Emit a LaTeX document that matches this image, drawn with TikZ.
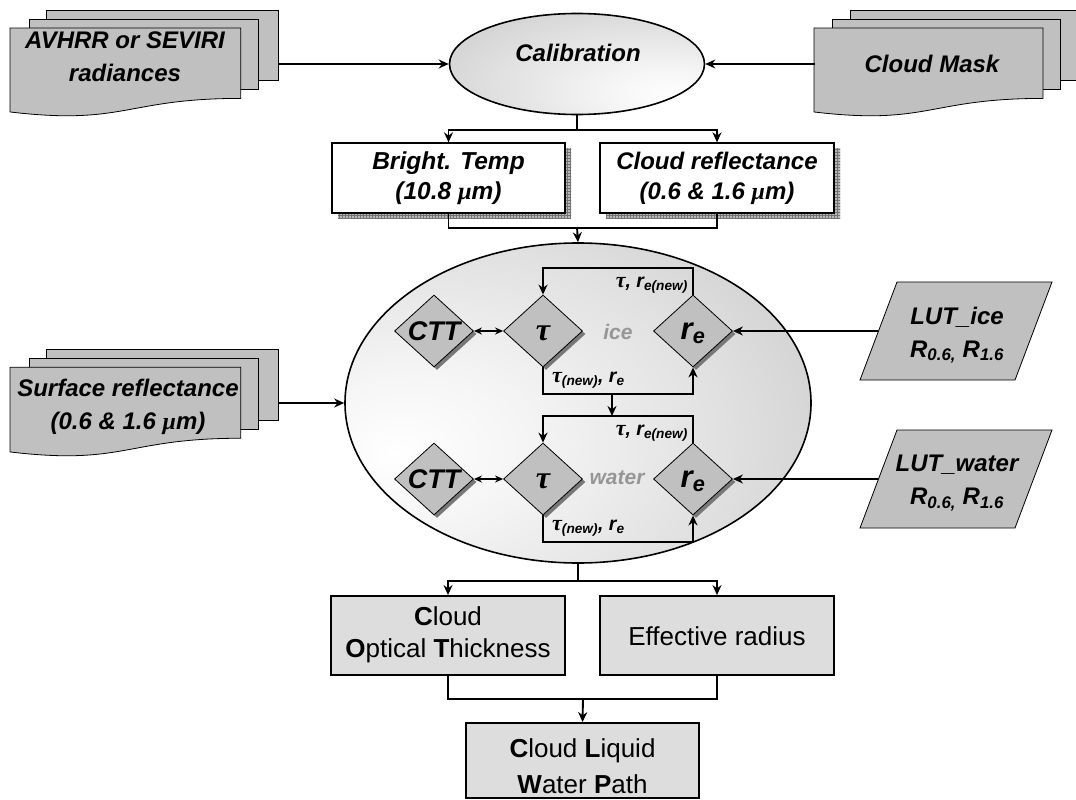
\documentclass[tikz,border=0pt]{standalone}
\usepackage{fontspec}
\setmainfont{Liberation Sans}
\newfontfamily\grk{Liberation Serif}
\usetikzlibrary{shapes.geometric,arrows.meta,patterns,shadows,calc}

\definecolor{docgray}{RGB}{192,192,192}
\definecolor{boxgray}{RGB}{221,221,221}
\definecolor{shadowgray}{RGB}{120,120,120}
\definecolor{labelgray}{RGB}{150,150,150}

\pgfdeclareradialshading{bigshade}{\pgfpoint{-20bp}{-8bp}}{color(0bp)=(white); color(12bp)=(white!96!black); color(30bp)=(white!88!black); color(45bp)=(white!80!black); color(100bp)=(white!80!black)}
\pgfdeclareradialshading{calshade}{\pgfpoint{20bp}{-16bp}}{color(0bp)=(white); color(12bp)=(white!96!black); color(30bp)=(white!88!black); color(48bp)=(white!80!black); color(100bp)=(white!80!black)}

\newcommand\mydocstack[4]{%
 \filldraw[page] ({#1+0.1376*#3},{#2}) rectangle ({#1+#3},{#2+0.666*#4});
 \filldraw[page] ({#1+0.0709*#3},{#2+0.084*#4}) rectangle ({#1+0.926*#3},{#2+0.752*#4});
 \filldraw[page] ({#1},{#2+0.17*#4}) -- ({#1+0.861*#3},{#2+0.17*#4}) -- ({#1+0.861*#3},{#2+0.834*#4}) .. controls ({#1+0.4305*#3},{#2+0.834*#4}) and ({#1+0.4305*#3},{#2+1.09*#4}) .. ({#1},{#2+0.962*#4}) -- cycle;
}
\newcommand\bigtau{{\grk\bfseries\itshape\fontsize{32}{32}\selectfont τ}}
\newcommand\smtau{{\grk\bfseries\itshape\fontsize{22}{22}\selectfont τ}}
\newcommand\mum{{\grk\bfseries\itshape μ}}

\begin{document}
\begin{tikzpicture}[x=1pt,y=-1pt,
  page/.style={draw=black, line width=0.8pt, fill=docgray},
  bitext/.style={font=\fontsize{24}{33}\selectfont\bfseries\itshape, align=center, inner sep=0pt},
  conn/.style={line width=1.9pt},
  arr/.style={line width=1.9pt, -{Stealth[length=10pt,width=9pt]}},
  dbl/.style={line width=1.9pt, {Stealth[length=8pt,width=7pt]}-{Stealth[length=8pt,width=7pt]}},
  dia/.style={diamond, draw, line width=0.8pt, fill=docgray, minimum width=79pt, minimum height=72pt, inner sep=0pt,
     drop shadow={shadow xshift=3pt, shadow yshift=-3pt, fill=shadowgray, opacity=1}},
  diatext/.style={font=\fontsize{27}{27}\selectfont\bfseries\itshape},
  tempbox/.style={rectangle, draw, line width=1.3pt, fill=white, minimum width=233pt, minimum height=70pt, inner sep=0pt},
  resbox/.style={rectangle, draw, line width=1.8pt, fill=boxgray, minimum width=234pt, inner sep=0pt},
  lbl/.style={font=\fontsize{19.5}{19.5}\selectfont\bfseries\itshape, inner sep=0pt},
  phase/.style={font=\fontsize{21}{21}\selectfont\bfseries\itshape, text=labelgray, inner sep=0pt},
  restext/.style={font=\fontsize{26}{32}\selectfont, align=center, inner sep=0pt}
]
\useasboundingbox (0,0) rectangle (1076,800);
\fill[white] (0,0) rectangle (1076,800);

% ---------- input document stacks ----------
\mydocstack{10}{10}{268}{106}
\node[bitext] (avhrr) at (125,57) {AVHRR or SEVIRI\\radiances};
\mydocstack{814}{10}{266}{106}
\node[bitext] (cmask) at (932,64) {Cloud Mask};
\mydocstack{10}{349}{268}{107}
\node[bitext] (surf) at (128,407) {Surface reflectance\\(0.6 \& 1.6 \mum m)};

% ---------- calibration ----------
\node[ellipse, draw, line width=1.6pt, shade, shading=calshade, minimum width=255pt, minimum height=101pt, inner sep=0pt] (cal) at (577,64) {};
\node[bitext] (caltext) at (578,53) {Calibration};

\coordinate (avout) at (278,64);
\coordinate (cmout) at (815,64);
\draw[arr] (avout) -- (cal.west);
\draw[arr] (cmout) -- (cal.east);

% ---------- BT / reflectance ----------
\fill[gray!55] (338,148) rectangle (571,218);
\fill[pattern=grid, pattern color=black!55] (338,148) rectangle (571,218);
\fill[gray!55] (606,148) rectangle (840,218);
\fill[pattern=grid, pattern color=black!55] (606,148) rectangle (840,218);
\node[tempbox] (bt) at (448.5,178) {};
\node[bitext, font=\fontsize{24.5}{30}\selectfont\bfseries\itshape] (bttext) at (448.5,178) {Bright. Temp\\(10.8 \mum m)};
\node[tempbox, minimum width=234pt] (cr) at (717,178) {};
\node[bitext, font=\fontsize{24}{30}\selectfont\bfseries\itshape] (crtext) at (717,178) {Cloud reflectance\\(0.6 \& 1.6 \mum m)};

\draw[conn] (cal.south) -- ++(0,15) coordinate (split1);
\draw[arr] (split1) -| (bt.north);
\draw[arr] (split1) -| (cr.north);

% ---------- big process ellipse ----------
\node[ellipse, draw, line width=1.6pt, shade, shading=bigshade, minimum width=466pt, minimum height=320pt, inner sep=0pt] (proc) at (578,403) {};

\draw[conn] (bt.south) -- ++(0,14) -| (cr.south);
\coordinate (join1) at (577,227);
\draw[arr] (join1) -- (proc.north);

\coordinate (surfout) at (278,403);
\draw[arr] (surfout) -- (proc.west);

% ice
\node[dia] (cttI) at (434,331) {};
\node[diatext] at (cttI) {CTT};
\node[dia] (tauI) at (543,331) {};
\node at (543,333) {\bigtau};
\node[dia] (reI) at (693,331) {};
\node[font=\fontsize{31}{31}\selectfont\bfseries\itshape] at (693,333) {r\textsubscript{e}};
\node[phase] (iceL) at (618,332) {ice};

\draw[dbl] (cttI.east) -- (tauI.west);
\draw[arr] (reI.north) -- ++(0,-27) -| (tauI.north);
\draw[arr] (tauI.south) -- ++(0,27) -| (reI.south);
\node[lbl, anchor=east] (l1) at (688,285) {\smtau, r\textsubscript{e(new)}};
\node[lbl, anchor=west] (l2) at (552,380) {\smtau\textsubscript{(new)}, r\textsubscript{e}};

\coordinate (iceout) at (612,394);
\coordinate (watin) at (612,416);
\draw[arr] (iceout) -- (watin);

% water
\node[dia] (cttW) at (434,479) {};
\node[diatext] at (cttW) {CTT};
\node[dia] (tauW) at (543,479) {};
\node at (543,481) {\bigtau};
\node[dia] (reW) at (693,479) {};
\node[font=\fontsize{31}{31}\selectfont\bfseries\itshape] at (693,481) {r\textsubscript{e}};
\node[phase] (watL) at (617,478) {water};

\draw[dbl] (cttW.east) -- (tauW.west);
\draw[arr] (reW.north) -- ++(0,-27) -| (tauW.north);
\draw[arr] (tauW.south) -- ++(0,27) -| (reW.south);
\node[lbl, anchor=east] (l3) at (688,433) {\smtau, r\textsubscript{e(new)}};
\node[lbl, anchor=west] (l4) at (552,528) {\smtau\textsubscript{(new)}, r\textsubscript{e}};

% ---------- LUTs ----------
\filldraw[page] (897,282) -- (1052,282) -- (1015,380) -- (860,380) -- cycle;
\node[bitext] (lutI) at (957,335) {LUT\_ice\\R\textsubscript{0.6,} R\textsubscript{1.6}};
\filldraw[page] (897,430) -- (1052,430) -- (1015,528) -- (860,528) -- cycle;
\node[bitext] (lutW) at (957,483) {LUT\_water\\R\textsubscript{0.6,} R\textsubscript{1.6}};
\coordinate (lutIin) at (878,331);
\coordinate (lutWin) at (878,479);
\draw[arr] (lutIin) -- (reI.east);
\draw[arr] (lutWin) -- (reW.east);

% ---------- results ----------
\node[resbox, minimum height=79pt] (cot) at (448,635.5) {};
\node[restext] (cottext) at (448,635) {\textbf{C}loud\\\textbf{O}ptical \textbf{T}hickness};
\node[resbox, minimum height=79pt] (er) at (717,635.5) {};
\node[restext] (ertext) at (717,636) {Effective radius};
\node[resbox, minimum width=233pt, minimum height=75pt] (clwp) at (582.5,760.5) {};
\node[restext, font=\fontsize{26}{36}\selectfont] (clwptext) at (582.5,766) {\textbf{C}loud \textbf{L}iquid\\\textbf{W}ater \textbf{P}ath};

\draw[conn] (proc.south) -- ++(0,17) coordinate (split2);
\draw[arr] (split2) -| (cot.north);
\draw[arr] (split2) -| (er.north);
\draw[conn] (cot.south) -- ++(0,23) -| (er.south);
\coordinate (join2) at (583,698);
\draw[arr] (join2) -- (clwp.north);
\end{tikzpicture}
\end{document}
